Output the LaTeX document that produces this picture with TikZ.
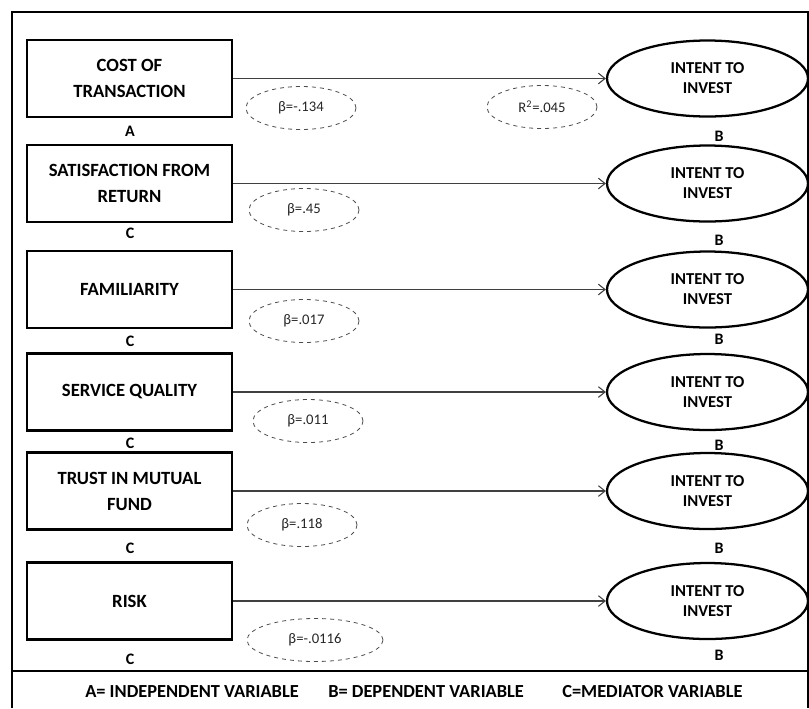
\documentclass[tikz,border=0pt]{standalone}
\usepackage{fontspec}
\setmainfont{Carlito}
\usepackage{tikz}
\usetikzlibrary{arrows.meta,shapes.geometric}
\begin{document}
\begin{tikzpicture}[x=0.75pt,y=0.75pt,yscale=-1,xscale=1,
  varbox/.style={draw,line width=1.7pt,minimum width=153.75pt,minimum height=57.75pt,inner sep=0pt,align=center,font=\bfseries\fontsize{14}{19.5}\selectfont},
  intent/.style={draw,ellipse,line width=1.7pt,minimum width=150.75pt,minimum height=57pt,inner sep=0pt,align=center,font=\bfseries\fontsize{12.5}{15}\selectfont},
  coef/.style={draw=black!70,ellipse,dashed,line width=0.6pt,minimum width=82.5pt,minimum height=32.25pt,inner sep=0pt,text=black!85,font=\fontsize{11}{13}\selectfont},
  tag/.style={inner sep=0pt,font=\bfseries\fontsize{12}{14}\selectfont},
  key/.style={anchor=west,inner sep=0pt,font=\bfseries\fontsize{13.8}{16}\selectfont},
  link/.style={draw=black!75,line width=0.8pt,-{Straight Barb[length=5pt,width=8pt]}}]
\useasboundingbox (0,0) rectangle (809,708);

%Frame
\draw [line width=1.5pt] (12,708) -- (12,12) -- (808,12) -- (808,708) ;
\draw [line width=1.5pt] (12,671) -- (808,671) ;

%Shape: Rectangles
\node [varbox] (cost) at (129.5,78.5) {COST OF\\TRANSACTION};
\node [varbox] (satisf) at (129.5,183.5) {SATISFACTION FROM\\RETURN};
\node [varbox] (famil) at (129.5,289.5) {FAMILIARITY};
\node [varbox] (servq) at (129.5,392) {SERVICE QUALITY};
\node [varbox] (trust) at (129.5,491) {TRUST IN MUTUAL\\FUND};
\node [varbox] (risk) at (129.5,601) {RISK};

%Shape: Ellipses
\node [intent] (intent1) at (707.5,78.5) {INTENT TO\\INVEST};
\node [intent] (intent2) at (707.5,183.5) {INTENT TO\\INVEST};
\node [intent] (intent3) at (707.5,289.5) {INTENT TO\\INVEST};
\node [intent] (intent4) at (707.5,392) {INTENT TO\\INVEST};
\node [intent] (intent5) at (707.5,491) {INTENT TO\\INVEST};
\node [intent] (intent6) at (707.5,601) {INTENT TO\\INVEST};

%Straight Lines
\draw [link] (cost) -- (intent1) ;
\draw [link] (satisf) -- (intent2) ;
\draw [link] (famil) -- (intent3) ;
\draw [link] (servq) -- (intent4) ;
\draw [link] (trust) -- (intent5) ;
\draw [link] (risk) -- (intent6) ;

%Dashed Ellipses
\node [coef] (beta1) at (301,108) {β=-.134};
\node [coef] (rsq) at (542,107) {R\textsuperscript{2}=.045};
\node [coef] (beta2) at (304,210) {β=.45};
\node [coef] (beta3) at (304,321) {β=.017};
\node [coef] (beta4) at (308,421) {β=.011};
\node [coef] (beta5) at (302,525) {β=.118};
\node [coef,minimum width=102pt] (beta6) at (315,640) {β=-.0116};

% Text Node
\node [tag] (tagA) at (130,131) {A};
\node [tag] (tagC2) at (130,233) {C};
\node [tag] (tagC3) at (130,341) {C};
\node [tag] (tagC4) at (130,443) {C};
\node [tag] (tagC5) at (130,548) {C};
\node [tag] (tagC6) at (130,659) {C};
% Text Node
\node [tag] (tagB1) at (719,136) {B};
\node [tag] (tagB2) at (719,240) {B};
\node [tag] (tagB3) at (719,339) {B};
\node [tag] (tagB4) at (719,445) {B};
\node [tag] (tagB5) at (719,548) {B};
\node [tag] (tagB6) at (719,655) {B};

% Text Node
\node [key] (keyA) at (85,692) {A= INDEPENDENT VARIABLE};
\node [key] (keyB) at (328,692) {B= DEPENDENT VARIABLE};
\node [key] (keyC) at (562,692) {C=MEDIATOR VARIABLE};

\end{tikzpicture}
\end{document}
